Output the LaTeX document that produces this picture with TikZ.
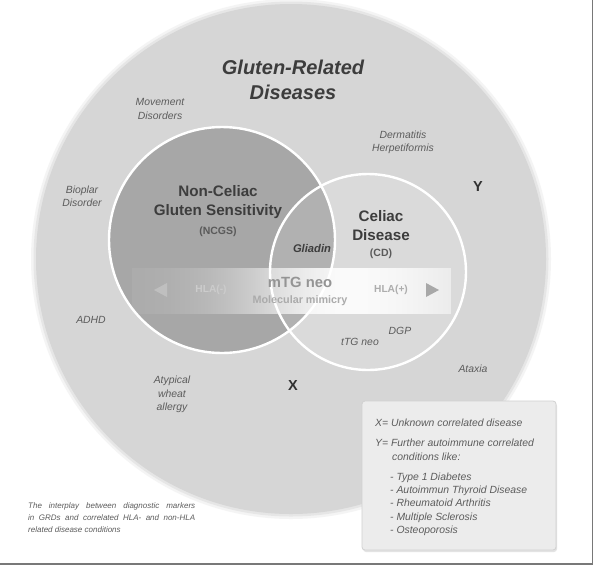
\documentclass[tikz,border=0pt]{standalone}
\usepackage{fontspec}
\setmainfont{Liberation Sans}
\usetikzlibrary{shadows}

\definecolor{outerc}{gray}{0.84}
\definecolor{ncgsc}{gray}{0.655}
\definecolor{darktxt}{gray}{0.24}
\definecolor{midtxt}{gray}{0.36}
\definecolor{bordc}{gray}{0.47}
\definecolor{legfill}{gray}{0.925}
\definecolor{legdraw}{gray}{0.82}
\definecolor{hlaneg}{gray}{0.80}
\definecolor{trileft}{gray}{0.75}
\definecolor{triright}{gray}{0.66}
\definecolor{hlapos}{gray}{0.68}
\definecolor{mtgc}{gray}{0.58}
\definecolor{mimicc}{gray}{0.67}

\tikzset{
  lbl/.style={font=\fontsize{10.4}{13.5}\selectfont\itshape, text=midtxt, align=center, inner sep=0pt},
  bigtitle/.style={font=\fontsize{20}{25}\selectfont\bfseries\itshape, text=darktxt, align=center, inner sep=0pt},
  circtitle/.style={font=\fontsize{15.2}{19}\selectfont\bfseries, text=darktxt, align=center, inner sep=0pt},
  abbr/.style={font=\fontsize{10.5}{12}\selectfont\bfseries, text=darktxt!85!white, inner sep=0pt},
  letter/.style={font=\fontsize{14.5}{16}\selectfont\bfseries, text=darktxt!80!black, inner sep=0pt},
  bandtxt/.style={inner sep=0pt},
  legtxt/.style={font=\fontsize{10.4}{12}\selectfont\itshape, text=midtxt, inner sep=0pt, anchor=base west},
  captxt/.style={font=\fontsize{8}{10}\selectfont\itshape, text=midtxt, inner sep=0pt, anchor=base west},
  ring/.style={draw=white, line width=2.4pt},
  legbox/.style={draw=legdraw, fill=legfill, rounded corners=3pt, line width=0.8pt,
    drop shadow={opacity=0.22, shadow xshift=1pt, shadow yshift=-2pt}}
}

\begin{document}
\begin{tikzpicture}[x=1pt,y=-1pt]
\useasboundingbox (0,0) rectangle (594,566);
\fill[white] (0,0) rectangle (594,566);

% outer circle with soft edge
\fill[outerc, opacity=0.25] (291,259) circle[radius=260pt];
\fill[outerc, opacity=0.45] (291,259) circle[radius=257.5pt];
\fill[outerc] (291,259) circle[radius=255pt];

% NCGS and CD circles
\fill[ncgsc] (222,240) circle[radius=113pt];
\fill[white, opacity=0.12] (368,272) circle[radius=98pt];
\draw[ring] (222,240) circle[radius=113pt];
\draw[ring] (368,272) circle[radius=98pt];

% band: white strips with a bell-shaped opacity profile
\foreach \i in {132,...,450} {
  \pgfmathsetmacro\op{\i<350 ? 0.04+0.84*exp(-((\i-350)/112)^2) : 0.04+0.84*exp(-((\i-350)/128)^2)}
  \fill[white, opacity=\op] (\i,268) rectangle (\i+1,314);
}
\fill[trileft] (154,290) -- (167,283) -- (167,297) -- cycle;
\fill[triright] (439,290) -- (426,283) -- (426,297) -- cycle;

\node[bandtxt, font=\fontsize{10.2}{12}\selectfont\bfseries, text=hlaneg] (hlan) at (211,290) {HLA(-)};
\node[bandtxt, font=\fontsize{10.2}{12}\selectfont\bfseries, text=hlapos] (hlap) at (391,290) {HLA(+)};
\node[bandtxt, font=\fontsize{14.8}{18}\selectfont\bfseries, text=mtgc] (mtg) at (300,282) {mTG neo};
\node[bandtxt, font=\fontsize{10.8}{12}\selectfont\bfseries, text=mimicc] (mimic) at (300,301) {Molecular mimicry};

% titles
\node[bigtitle] (grd) at (293,80) {Gluten-Related\\Diseases};
\node[circtitle] (ncgs) at (218,202) {Non-Celiac\\Gluten Sensitivity};
\node[abbr] (ncgsab) at (218,232) {(NCGS)};
\node[circtitle] (cd) at (381,226) {Celiac\\Disease};
\node[abbr] (cdab) at (381,254) {(CD)};
\node[font=\fontsize{11.2}{13}\selectfont\bfseries\itshape, text=darktxt, inner sep=0pt] (gliadin) at (312,248) {Gliadin};

% labels
\node[lbl] (move) at (160,109) {Movement\\Disorders};
\node[lbl] (derm) at (403,142.5) {Dermatitis\\Herpetiformis};
\node[lbl] (bipolar) at (82,196.5) {Bioplar\\Disorder};
\node[lbl] (adhd) at (91,320) {ADHD};
\node[lbl] (atyp) at (172,394.5) {Atypical\\wheat\\allergy};
\node[lbl] (ttg) at (360,342) {tTG neo};
\node[lbl] (dgp) at (400,331) {DGP};
\node[lbl] (ataxia) at (473,369) {Ataxia};
\node[letter] (y) at (478,187) {Y};
\node[letter] (x) at (293,386) {X};

% legend
\node[legbox, minimum width=194pt, minimum height=149pt, inner sep=0pt] (legend) at (459,475.5) {};
\node[legtxt] (l1) at (375,426.8) {X= Unknown correlated disease};
\node[legtxt] (l2) at (375,446.8) {Y= Further autoimmune correlated};
\node[legtxt] (l3) at (392,460.8) {conditions like:};
\node[legtxt] (l4) at (390,480.8) {- Type 1 Diabetes};
\node[legtxt] (l5) at (390,493.8) {- Autoimmun Thyroid Disease};
\node[legtxt] (l6) at (390,506.8) {- Rheumatoid Arthritis};
\node[legtxt] (l7) at (390,520.8) {- Multiple Sclerosis};
\node[legtxt] (l8) at (390,533.8) {- Osteoporosis};

% caption
\node[captxt] (c1) at (28,508) {\makebox[167pt][s]{The interplay between diagnostic markers}};
\node[captxt] (c2) at (28,520) {\makebox[167pt][s]{in GRDs and correlated HLA- and non-HLA}};
\node[captxt] (c3) at (28,532) {related disease conditions};

% frame lines
\draw[bordc, line width=1.6pt] (0,564) -- (592.6,564) -- (592.6,0);
\end{tikzpicture}
\end{document}
